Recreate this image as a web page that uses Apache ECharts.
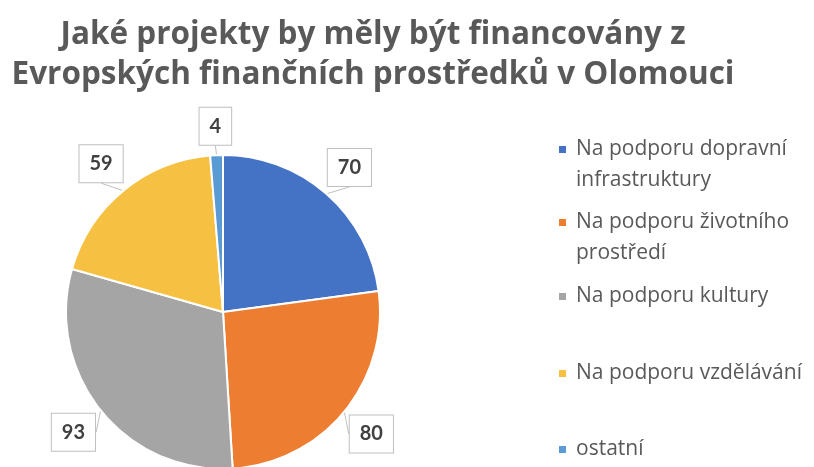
<!DOCTYPE html>
<html>
<head>
<meta charset="utf-8">
<script src="https://cdn.jsdelivr.net/npm/echarts@6/dist/echarts.min.js"></script>
<style>
  html, body { margin: 0; padding: 0; background: #fff; }
  #chart { width: 814px; height: 467px; }
</style>
</head>
<body>
<div id="chart"></div>
<script>
// data
const categories = [
  'Na podporu dopravní\ninfrastruktury',
  'Na podporu životního\nprostředí',
  'Na podporu kultury',
  'Na podporu vzdělávání',
  'ostatní'
]
const values = [70, 80, 93, 59, 4]
const colors = ['#4472C4', '#ED7D31', '#A5A5A5', '#F6C143', '#5B9BD5']

const CX = 223
const CY = 312
const R = 157
const LABEL_R = [192, 192, 192, 192, 186]

const chart = echarts.init(document.getElementById('chart'))

// one legend per entry, Excel spreads them evenly down the right side
const legendTops = [133, 206, 281, 358, 434]
const legends = categories.map((name, i) => {
  const twoLines = name.indexOf('\n') >= 0
  return {
    orient: 'vertical',
    left: 557,
    top: legendTops[i],
    padding: 0,
    itemWidth: 9,
    itemHeight: twoLines ? 62 : 9,
    // square sits next to the first line of a wrapped name
    icon: twoLines ? 'path://M0,11h9v9h-9zM0,0M9,62' : 'rect',
    itemGap: 0,
    selectedMode: false,
    data: [name],
    textStyle: {
      fontFamily: 'Open Sans',
      fontSize: 21,
      color: '#595959',
      lineHeight: 31,
      padding: [0, 0, 0, 4]
    }
  }
})

const option = {
  animation: false,
  color: colors,
  title: {
    text: 'Jaké projekty by měly být financovány z\nEvropských finančních prostředků v Olomouci',
    left: 368,
    top: 10,
    textAlign: 'center',
    textStyle: {
      fontFamily: 'Open Sans',
      fontWeight: 'bold',
      fontSize: 31.5,
      lineHeight: 40,
      color: '#595959'
    }
  },
  legend: legends,
  series: [{
    type: 'pie',
    center: [CX, CY],
    radius: R,
    startAngle: 90,
    clockwise: true,
    avoidLabelOverlap: false,
    data: categories.map((name, i) => ({ name, value: values[i] })),
    itemStyle: {
      borderColor: '#fff',
      borderWidth: 2
    },
    label: {
      show: true,
      position: 'outside',
      formatter: '{c}',
      fontFamily: 'Lato',
      fontWeight: 'bold',
      fontSize: 20,
      color: '#404040',
      backgroundColor: '#fff',
      borderColor: '#BFBFBF',
      borderWidth: 1,
      padding: [9, 10, 8, 10]
    },
    labelLine: {
      show: true,
      length: 6,
      length2: 0,
      lineStyle: { color: '#BFBFBF', width: 1 }
    },
    labelLayout: function (p) {
      const pts = p.labelLinePoints
      if (!pts) return {}
      const dx = pts[0][0] - CX
      const dy = pts[0][1] - CY
      const d = Math.sqrt(dx * dx + dy * dy)
      const lr = LABEL_R[p.dataIndex]
      return {
        x: CX + dx / d * lr,
        y: CY + dy / d * lr,
        align: 'center',
        verticalAlign: 'middle'
      }
    }
  }]
}

chart.setOption(option)
window.addEventListener('resize', () => chart.resize())
</script>
</body>
</html>
